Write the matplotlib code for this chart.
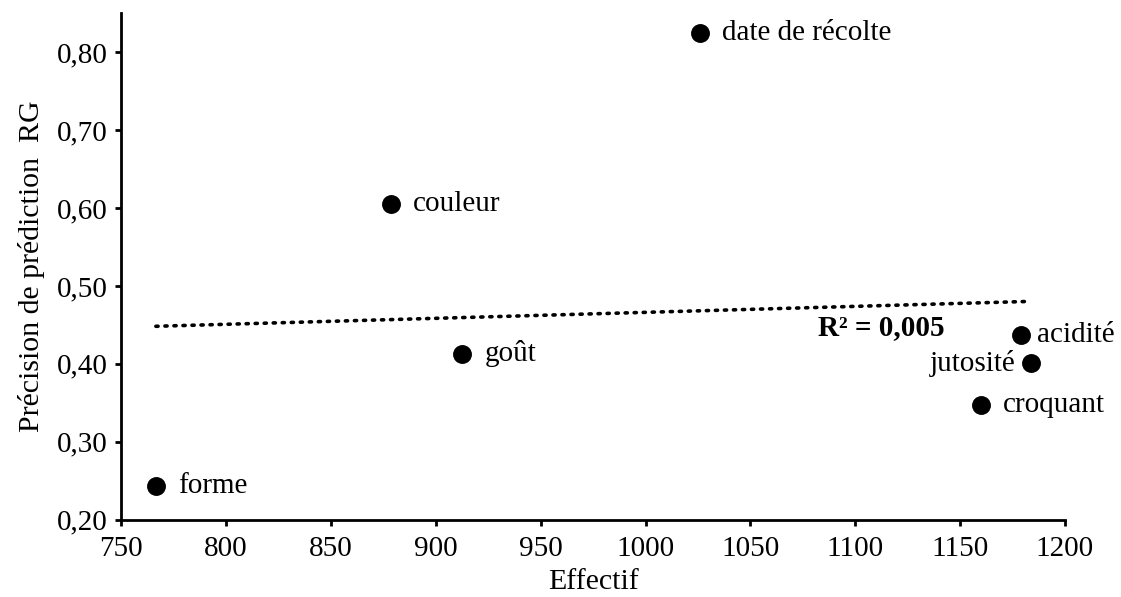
import numpy as np
import matplotlib
matplotlib.use("Agg")
import matplotlib.pyplot as plt
from matplotlib.ticker import FuncFormatter

# Data
traits = ["forme", "couleur", "goût", "date de récolte", "acidité", "jutosité", "croquant"]
effectif = [766.5, 878.6, 912.6, 1026.0, 1179.0, 1183.8, 1160.0]
precision = [0.243, 0.605, 0.413, 0.825, 0.437, 0.401, 0.347]
x_ticks = [750, 800, 850, 900, 950, 1000, 1050, 1100, 1150, 1200]
y_ticks = [0.20, 0.30, 0.40, 0.50, 0.60, 0.70, 0.80]
r2_label = "R² = 0,005"

plt.rcParams['font.family'] = ['Liberation Serif', 'DejaVu Serif']

fig = plt.figure(figsize=(11.21, 5.97), dpi=100)
ax = fig.add_axes([0.1082, 0.1298, 0.8418, 0.8476])

x = np.array(effectif)
y = np.array(precision)
ax.scatter(x, y, s=185, color='black', zorder=3, linewidths=0)

# trend line
coef = np.polyfit(x, y, 1)
xs = np.array([x.min(), x.max()])
ax.plot(xs, np.polyval(coef, xs), linestyle=(0, (0.6, 1.9)), color='black',
        linewidth=2.6, dash_capstyle='round', zorder=2)

offsets = {"forme": 16, "couleur": 16, "goût": 16, "date de récolte": 16,
           "acidité": 11.5, "jutosité": -11, "croquant": 16}
for t, xi, yi in zip(traits, x, y):
    off = offsets[t]
    ax.annotate(t, (xi, yi), xytext=(off, 0), textcoords='offset points',
                ha='left' if off > 0 else 'right', va='center', fontsize=21)

ax.text(1082, 0.446, r2_label, fontsize=21, fontweight='bold', ha='left', va='center')

ax.set_xlim(750, 1200)
ax.set_ylim(0.20, 0.85)
ax.set_xticks(x_ticks)
ax.set_yticks(y_ticks)
ax.yaxis.set_major_formatter(FuncFormatter(lambda v, p: f"{v:.2f}".replace('.', ',')))
ax.tick_params(direction='out', length=4, width=2, labelsize=21)
ax.tick_params(axis='x', pad=8)
ax.tick_params(axis='y', pad=6)

for s in ['top', 'right']:
    ax.spines[s].set_visible(False)
for s in ['left', 'bottom']:
    ax.spines[s].set_linewidth(2)

ax.set_xlabel("Effectif", fontsize=21.5, labelpad=5)
ax.set_ylabel("Précision de prédiction  RG", fontsize=21.5, labelpad=8)

fig.savefig("out.png", dpi=100)
